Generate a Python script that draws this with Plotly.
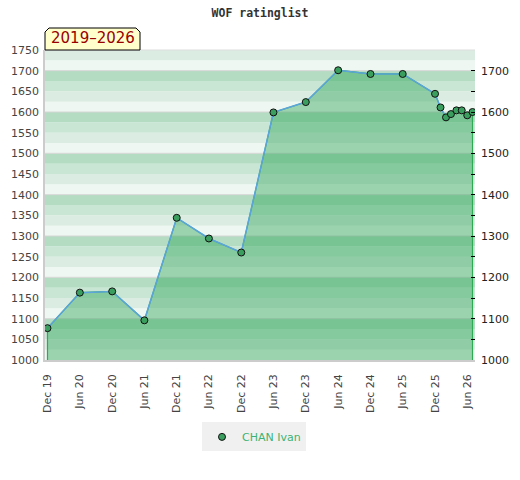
import plotly.graph_objects as go

# ---- data ----
dates = ["2019-12-01", "2020-06-01", "2020-12-01", "2021-06-01", "2021-12-01",
         "2022-06-01", "2022-12-01", "2023-06-01", "2023-12-01", "2024-06-01",
         "2024-12-01", "2025-06-01", "2025-12-01", "2026-01-01", "2026-02-01",
         "2026-03-01", "2026-04-01", "2026-05-01", "2026-06-01", "2026-07-01"]
ratings = [1077, 1163, 1166, 1096, 1344, 1294, 1260, 1599, 1624, 1701,
           1692, 1692, 1644, 1611, 1587, 1595, 1604, 1604, 1592, 1600]
player = "CHAN Ivan"
period_label = "2019–2026"
tick_dates = ["2019-12-01", "2020-06-01", "2020-12-01", "2021-06-01", "2021-12-01",
              "2022-06-01", "2022-12-01", "2023-06-01", "2023-12-01", "2024-06-01",
              "2024-12-01", "2025-06-01", "2025-12-01", "2026-06-01"]
tick_text = ["Dec 19", "Jun 20", "Dec 20", "Jun 21", "Dec 21", "Jun 22", "Dec 22",
             "Jun 23", "Dec 23", "Jun 24", "Dec 24", "Jun 25", "Dec 25", "Jun 26"]
y_min, y_max = 1000, 1750
left_ticks = list(range(1000, 1751, 50))
right_ticks = list(range(1000, 1751, 50))
right_text = [str(v) if v % 100 == 0 and v < 1750 else "" for v in right_ticks]

FONT = "DejaVu Sans"
band_colors = ["#eef7f1", "#dbede2", "#c9e6d4", "#b3dcc2"]

FIG_W, FIG_H = 520, 480
PL, PT, PW, PH = 45, 50, 430, 310

fig = go.Figure()

# filled polygon (area) with green edges
poly_x = [dates[0]] + dates + [dates[-1]]
poly_y = [y_min] + ratings + [y_min]
fig.add_trace(go.Scatter(
    x=poly_x, y=poly_y, mode="lines", fill="toself",
    fillcolor="rgba(40,161,83,0.42)",
    line=dict(color="#2eaa55", width=1.2),
    hoverinfo="skip", showlegend=False))

# blue line
fig.add_trace(go.Scatter(
    x=dates, y=ratings, mode="lines",
    line=dict(color="#5ca4dc", width=1.5),
    showlegend=False, hoverinfo="skip"))

# markers (legend)
fig.add_trace(go.Scatter(
    x=dates, y=ratings, mode="markers", name=player,
    marker=dict(size=7, color="#3a9e5e", line=dict(color="#111111", width=1)),
    yaxis="y2"))

shapes = []
# background bands
v = y_min
i = 0
while v < y_max:
    shapes.append(dict(type="rect", xref="paper", yref="y", x0=0, x1=1,
                       y0=v, y1=v + 25, fillcolor=band_colors[i % 4],
                       line=dict(width=0), layer="below"))
    v += 25
    i += 1
# grid lines every 100
for g in range(1100, 1750, 100):
    shapes.append(dict(type="line", xref="paper", yref="y", x0=0, x1=1,
                       y0=g, y1=g, line=dict(color="#d6d6d6", width=1),
                       layer="below"))
# top border
shapes.append(dict(type="line", xref="paper", yref="paper", x0=0, x1=1,
                   y0=1, y1=1, line=dict(color="#dddddd", width=1),
                   layer="below"))

# label box with chamfered top corners
W, H = float(PW), float(PH)
bx0, bx1 = 0.0, 95 / W
by0, by1 = 1.0, 1.0 + 22 / H
cx, cy = 4 / W, 4 / H
path = (f"M {bx0},{by0} L {bx0},{by1-cy} L {bx0+cx},{by1} L {bx1-cx},{by1} "
        f"L {bx1},{by1-cy} L {bx1},{by0} Z")
shapes.append(dict(type="path", xref="paper", yref="paper", path=path,
                   fillcolor="#ffffcc", line=dict(color="#000000", width=1),
                   layer="above"))

fig.update_layout(
    width=FIG_W, height=FIG_H,
    margin=dict(l=PL, r=FIG_W - PL - PW, t=PT, b=FIG_H - PT - PH,
                autoexpand=False),
    paper_bgcolor="white", plot_bgcolor="white",
    title=dict(text="<b>WOF ratinglist</b>", x=0.5,
               xanchor="center", y=1 - 13 / FIG_H, yanchor="middle",
               yref="container",
               font=dict(family="DejaVu Sans Mono", size=11.5, color="#333333")),
    shapes=shapes,
    annotations=[dict(text=period_label, xref="paper", yref="paper",
                      x=(bx0 + bx1) / 2, y=(by0 + by1) / 2 + 0.002,
                      xanchor="center", yanchor="middle", showarrow=False,
                      font=dict(family=FONT, size=15, color="#990000"))],
    xaxis=dict(type="date", range=["2019-11-17", "2026-07-15"],
               tickvals=tick_dates, ticktext=tick_text, tickangle=-90,
               showgrid=False, zeroline=False, ticks="", automargin=False,
               showline=True, linecolor="#cccccc", linewidth=1.5, mirror=False,
               ticklabelstandoff=8,
               tickfont=dict(family=FONT, size=11, color="#444444")),
    yaxis=dict(range=[y_min, y_max], tickvals=left_ticks,
               ticktext=[str(t) for t in left_ticks], automargin=False,
               showgrid=False, zeroline=False, ticks="",
               showline=True, linecolor="#cccccc", linewidth=1.5,
               ticklabelstandoff=2,
               tickfont=dict(family=FONT, size=11, color="#444444")),
    yaxis2=dict(range=[y_min, y_max], overlaying="y", side="right",
                tickvals=right_ticks, ticktext=right_text, automargin=False,
                ticks="inside", ticklen=4, tickcolor="#000000", tickwidth=1,
                showgrid=False, zeroline=False, showline=False,
                ticklabelstandoff=5,
                tickfont=dict(family=FONT, size=11, color="#222222")),
    legend=dict(orientation="h", x=0.5 - 6 / PW, xanchor="center", y=-0.248,
                yanchor="middle", bgcolor="#f0f0f0", itemwidth=30,
                font=dict(family=FONT, size=11, color="#3cb371")),
    showlegend=True,
)

fig.write_html("out.html",
               config={"displayModeBar": False},
               post_script="document.body.style.margin='0';"
                           "document.body.style.padding='0';")
